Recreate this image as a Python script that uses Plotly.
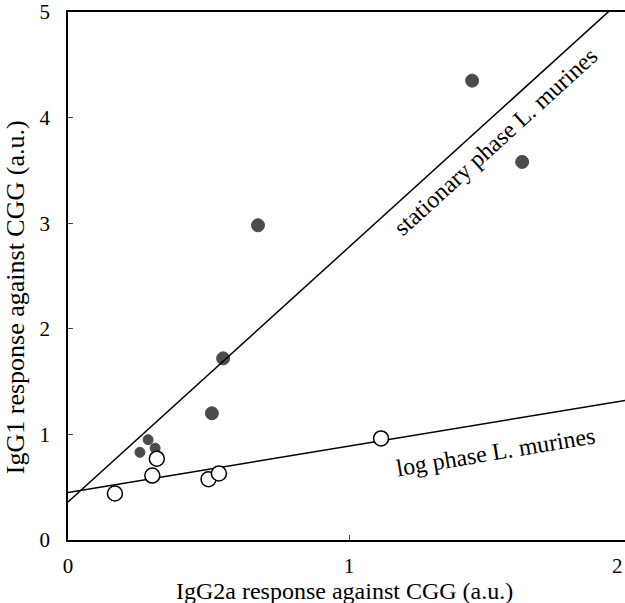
import plotly.graph_objects as go

# Stationary phase (filled) data
stat_x = [0.256, 0.285, 0.31, 0.512, 0.552, 0.676, 1.438, 1.616]
stat_y = [0.83, 0.95, 0.87, 1.20, 1.72, 2.98, 4.35, 3.58]
stat_size = [10, 10, 10, 13, 13, 13, 13, 13]

# Log phase (open) data
log_x = [0.167, 0.30, 0.316, 0.50, 0.537, 1.114]
log_y = [0.44, 0.61, 0.77, 0.575, 0.63, 0.962]

# Regression lines (intercept, slope)
stat_fit = (0.36, 2.414)
log_fit = (0.45, 0.44)
line_x = [0, 2.0]

x_ticks = [0, 1]
y_ticks = [0, 1, 2, 3, 4, 5]

FONT = "Liberation Serif"
TXT = 24
TICK = 21

fig = go.Figure()

for (b, m) in [stat_fit, log_fit]:
    fig.add_trace(go.Scatter(x=line_x, y=[b + m * v for v in line_x], mode="lines",
                             line=dict(color="black", width=1.5), showlegend=False,
                             hoverinfo="skip"))

fig.add_trace(go.Scatter(x=stat_x, y=stat_y, mode="markers",
                         marker=dict(color="black", size=stat_size, symbol="circle",
                                     line=dict(color="black", width=1)),
                         showlegend=False))
fig.add_trace(go.Scatter(x=log_x, y=log_y, mode="markers",
                         marker=dict(color="white", size=15, symbol="circle",
                                     line=dict(color="black", width=1.5)),
                         showlegend=False))

fig.add_annotation(x=1.52, y=3.77, text="stationary phase L. murines", showarrow=False,
                   textangle=-42.3, font=dict(family=FONT, size=TXT, color="black"))
fig.add_annotation(x=1.52, y=0.83, text="log phase L. murines", showarrow=False,
                   textangle=-9.5, font=dict(family=FONT, size=TXT, color="black"))
# tick label "2" at the right edge
fig.add_annotation(x=1.0, xref="paper", y=0, yref="paper", yshift=-26, xanchor="right",
                   yanchor="middle", text="2", showarrow=False,
                   font=dict(family=FONT, size=TICK, color="black"))
# axis titles
fig.add_annotation(x=0.985, xref="x", y=-0.096, yref="paper", yanchor="middle",
                   text="IgG2a response against CGG (a.u.)", showarrow=False,
                   font=dict(family=FONT, size=TXT, color="black"))
fig.add_annotation(x=-0.095, xref="paper", y=0.46, yref="paper", xanchor="center",
                   yanchor="middle", textangle=-90,
                   text="IgG1 response against CGG (a.u.)", showarrow=False,
                   font=dict(family=FONT, size=26, color="black"))

fig.update_layout(
    width=625, height=603,
    margin=dict(l=68, r=0, t=10, b=63),
    plot_bgcolor="white", paper_bgcolor="white",
    font=dict(family=FONT, size=TICK, color="black"),
    xaxis=dict(range=[0, 1.982], tickvals=x_ticks, ticks="inside", ticklen=5,
               showline=True, linecolor="black", linewidth=1.5, mirror=True,
               showgrid=False, zeroline=False, ticklabelstandoff=6,
               ticklabeloverflow="allow"),
    yaxis=dict(range=[0, 5], tickvals=y_ticks, ticks="inside", ticklen=5,
               showline=True, linecolor="black", linewidth=1.5, mirror=False,
               showgrid=False, zeroline=False, ticklabelstandoff=12,
               ticklabeloverflow="allow"),
)

fig.write_html("out.html")
